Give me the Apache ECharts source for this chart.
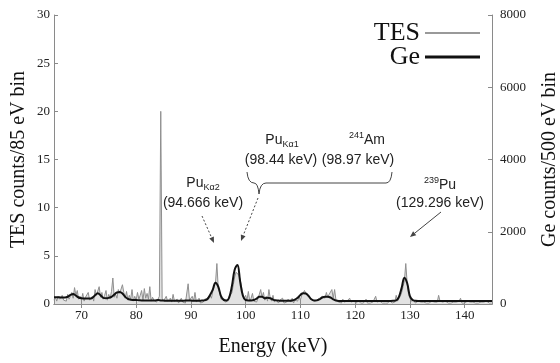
<!doctype html>
<html>
<head>
<meta charset="utf-8">
<title>TES / Ge spectrum</title>
<script src="https://cdn.jsdelivr.net/npm/echarts@6/dist/echarts.min.js"></script>
<style type="text/css">
	html,body{margin:0;padding:0;background:#fff;}
	#chart{width:560px;height:363px;}
</style>
</head>
<body>
<div id="chart"></div>
<script type="text/javascript">
// TES: counts per bin, one value every 0.25 keV starting at 65 keV
var tesStart = 65, tesStep = 0.25;
var tesCounts = [
	0.4,0.7,0.3,0.8, 0.5,0.3,0.9,0.4, 0.6,0.3,1.0,0.5, 0.8,1.2,0.6,1.7, 0.9,1.4,0.5,0.8,   // 65-69
	0.4,1.1,0.3,0.7, 0.5,1.2,0.4,0.6, 0.8,0.3,1.5,0.9, 1.0,1.8,0.7,1.2, 0.5,0.9,1.4,0.4,   // 70-74
	1.0,0.6,1.3,2.7, 0.7,1.0,0.6,1.5, 1.1,0.9,2.0,1.2, 0.6,1.3,0.4,0.9, 0.5,1.5,0.3,0.8,   // 75-79
	0.4,1.2,0.5,0.9, 1.4,0.4,1.6,0.6, 1.1,0.5,1.8,0.3, 0.7,0.4,0.6,0.2, 0.5,0.8,20,0.6,    // 80-84
	0.3,0.2,0.8,0.3, 0.1,0.6,0.2,1.0, 0.3,0.2,0.5,0.1, 0.3,0.6,0.2,0.4, 0.1,0.3,2.1,0.4,   // 85-89
	0.2,0.8,0.3,1.2, 0.2,0.4,0.6,0.1, 0.3,0.2,0.5,0.3, 0.6,0.4,0.9,0.6, 1.3,1.8,2.2,4.2,   // 90-94
	1.6,1.2,0.5,0.3, 0.6,0.2,0.4,0.3, 0.8,0.6,1.2,2.0, 2.8,3.3,3.5,3.0, 2.6,1.8,1.0,0.6,   // 95-99
	0.9,0.4,1.3,0.3, 0.6,1.1,0.3,0.5, 0.2,0.6,1.0,1.5, 0.7,1.2,0.4,0.8, 0.3,1.5,0.6,0.3,   // 100-104
	0.9,0.2,0.5,0.3, 0.1,0.4,0.2,0.6, 0.1,0.3,0.2,0.5, 0.3,0.2,0.6,0.1, 0.4,0.5,0.3,0.8,   // 105-109
	0.4,0.9,1.0,1.4, 1.1,1.2,0.8,1.0, 0.5,0.6,0.3,0.2, 0.4,0.3,0.6,0.4, 0.8,0.9,0.6,1.2,   // 110-114
	0.7,1.0,0.8,1.5, 0.6,1.5,0.4,0.6, 0.2,0.3,0.1,0.5, 0.2,0.1,0.3,0.2, 0.6,0.2,0.1,0.3,   // 115-119
	0.2,0.1,0.4,0.2, 0.1,0.3,0.1,0.2, 0.5,0.1,0.2,0.1, 0.3,0.2,0.1,0.8, 0.2,0.1,0.3,0.2,   // 120-124
	0.1,0.2,0.1,0.3, 0.1,0.4,0.2,0.1, 0.3,0.2,0.9,0.3, 0.5,0.8,1.2,1.8, 2.4,4.2,2.2,1.0,   // 125-129
	0.6,0.3,0.2,0.4, 0.1,0.2,0.3,0.1, 0.2,0.1,0.2,0.3, 0.1,0.2,0.1,0.2, 0.3,0.1,0.2,0.1,   // 130-134
	0.2,0.9,0.3,0.1, 0.2,0.1,0.3,0.2, 0.1,0.2,0.1,0.3, 0.2,0.1,0.2,0.1, 0.3,0.6,0.1,0.2,   // 135-139
	0.1,0.2,0.3,0.1, 0.2,0.1,0.2,0.4, 0.1,0.2,0.1,0.3, 0.2,0.1,0.2,0.1, 0.3,0.2,0.1,0.2,   // 140-144
	0.1                                                                                    // 145
];

// Ge: counts per 500 eV bin, starting at 65 keV
var geStart = 65, geStep = 0.5;
var geCounts = [
	190,190,185,180,180,200,250,280,230,180,   // 65-69.5
	160,150,150,150,170,240,300,240,170,160,   // 70-74.5
	170,200,260,320,330,290,200,140,120,110,   // 75-79.5
	110,105,100,100,100,100,95,100,110,100,    // 80-84.5
	95,90,90,90,90,90,90,90,95,95,             // 85-89.5
	95,90,90,90,95,100,130,250,400,590,        // 90-94.5
	480,220,110,100,180,500,950,1080,620,230,  // 95-99.5
	110,100,100,110,150,200,200,160,170,160,   // 100-104.5
	120,100,95,90,90,90,90,95,120,170,         // 105-109.5
	250,300,290,220,130,95,100,130,180,200,    // 110-114.5
	200,180,130,95,85,85,85,85,85,85,          // 115-119.5
	85,85,85,85,85,85,85,85,85,85,             // 120-124.5
	85,85,85,85,90,100,200,450,730,580,        // 125-129.5
	220,110,90,85,85,85,85,85,85,85,           // 130-134.5
	85,85,85,85,85,85,85,85,80,80,             // 135-139.5
	80,80,80,80,80,80,80,80,80,80,             // 140-144.5
	80                                         // 145
];

var xTicks = [70, 80, 90, 100, 110, 120, 130, 140];

var tesData = tesCounts.map(function(v, i){ return [tesStart + i * tesStep, v]; });
var geData = geCounts.map(function(v, i){ return [geStart + i * geStep, v]; });

var serif = "'Liberation Serif', 'DejaVu Serif', serif";
var sans = "'Liberation Sans', 'Noto Sans', sans-serif";
var frameColor = '#8a8a8a';
var inkStyle = {stroke: '#444', lineWidth: 1, fill: null};

// arrow = line + little filled head
function arrow(x1, y1, x2, y2, dashed){
	var dx = x2 - x1, dy = y2 - y1, len = Math.sqrt(dx*dx + dy*dy);
	var ux = dx / len, uy = dy / len, hl = 6, hw = 2.5;
	var bx = x2 - ux * hl, by = y2 - uy * hl;
	return [
		{type: 'line', shape: {x1: x1, y1: y1, x2: bx, y2: by},
		 style: {stroke: '#444', lineWidth: 1, lineDash: dashed ? [2, 2] : null}},
		{type: 'polygon', shape: {points: [[x2, y2], [bx - uy*hw, by + ux*hw], [bx + uy*hw, by - ux*hw]]},
		 style: {fill: '#444'}}
	];
}

function curve(x1, y1, cx, cy, x2, y2){
	return {type: 'bezierCurve', shape: {x1: x1, y1: y1, cpx1: cx, cpy1: cy, x2: x2, y2: y2}, style: inkStyle};
}

function label(x, y, text){
	return {
		type: 'text',
		style: {
			x: x, y: y, text: text, align: 'center', verticalAlign: 'middle',
			fill: '#222',
			rich: {
				m: {fontFamily: sans, fontSize: 14, lineHeight: 18, verticalAlign: 'middle'},
				s: {fontFamily: sans, fontSize: 9, lineHeight: 18, verticalAlign: 'bottom'},
				p: {fontFamily: sans, fontSize: 9, lineHeight: 18, verticalAlign: 'top'}
			}
		}
	};
}

var notes = [
	label(203, 183, '{m|Pu}{s|Kα2}'),
	label(203, 203, '{m|(94.666 keV)}'),
	label(282, 140, '{m|Pu}{s|Kα1}'),
	label(281, 160, '{m|(98.44 keV)}'),
	label(367, 140, '{p|241}{m|Am}'),
	label(358, 160, '{m|(98.97 keV)}'),
	label(440, 185, '{p|239}{m|Pu}'),
	label(440, 203, '{m|(129.296 keV)}'),
	// curly brace under the 98 keV labels
	curve(247, 172, 248, 183, 254, 183),
	curve(254, 183, 258, 183, 259, 194),
	curve(259, 194, 260, 183, 266, 183),
	{type: 'line', shape: {x1: 266, y1: 183, x2: 386, y2: 183}, style: inkStyle},
	curve(386, 183, 391, 183, 392, 172)
].concat(arrow(202, 216, 214, 243, true))
 .concat(arrow(258, 198, 241, 241, true))
 .concat(arrow(441, 212, 410, 237, false));

var chart = echarts.init(document.getElementById('chart'));
var option = {
	animation: false,
	backgroundColor: '#fff',
	grid: {left: 54, right: 68, top: 15, bottom: 59, containLabel: false, outerBoundsMode: 'none'},
	legend: [
		{data: [{name: 'TES', icon: 'rect'}], right: 80, top: 20, padding: 0, align: 'right', itemWidth: 55, itemHeight: 2,
		 textStyle: {fontFamily: serif, fontSize: 26, color: '#111'}, selectedMode: false},
		{data: [{name: 'Ge', icon: 'rect'}], right: 80, top: 44, padding: 0, align: 'right', itemWidth: 55, itemHeight: 3,
		 textStyle: {fontFamily: serif, fontSize: 26, color: '#111'}, selectedMode: false}
	],
	xAxis: [
		{type: 'value', min: 65, max: 145, position: 'bottom',
		 name: 'Energy (keV)', nameLocation: 'middle', nameGap: 33, nameMoveOverlap: false,
		 nameTextStyle: {fontFamily: serif, fontSize: 20, color: '#111'},
		 axisLine: {lineStyle: {color: frameColor}},
		 axisTick: {inside: true, length: 4, customValues: xTicks, lineStyle: {color: frameColor}},
		 axisLabel: {customValues: xTicks, fontFamily: serif, fontSize: 13, color: '#222', margin: 5},
		 splitLine: {show: false}},
		{type: 'value', min: 65, max: 145, position: 'top',
		 axisLine: {lineStyle: {color: frameColor}},
		 axisTick: {inside: true, length: 4, customValues: xTicks, lineStyle: {color: frameColor}},
		 axisLabel: {show: false}, splitLine: {show: false}}
	],
	yAxis: [
		{type: 'value', min: 0, max: 30, interval: 5, position: 'left',
		 name: 'TES counts/85 eV bin', nameLocation: 'middle', nameGap: 25, nameRotate: 90, nameMoveOverlap: false,
		 nameTextStyle: {fontFamily: serif, fontSize: 20, color: '#111'},
		 axisLine: {show: true, lineStyle: {color: frameColor}},
		 axisTick: {show: true, inside: true, length: 4, lineStyle: {color: frameColor}},
		 axisLabel: {fontFamily: serif, fontSize: 13, color: '#222', margin: 4},
		 splitLine: {show: false}},
		{type: 'value', min: 0, max: 8000, interval: 2000, position: 'right',
		 name: 'Ge counts/500 eV bin', nameLocation: 'middle', nameGap: 48, nameRotate: 90, nameMoveOverlap: false,
		 nameTextStyle: {fontFamily: serif, fontSize: 20, color: '#111'},
		 axisLine: {show: true, lineStyle: {color: frameColor}},
		 axisTick: {show: true, inside: true, length: 4, lineStyle: {color: frameColor}},
		 axisLabel: {fontFamily: serif, fontSize: 13, color: '#222', margin: 8,
		             formatter: function(v){ return String(v); }},
		 splitLine: {show: false}}
	],
	series: [
		{name: 'TES', type: 'line', xAxisIndex: 0, yAxisIndex: 0, data: tesData,
		 symbol: 'none', color: '#999',
		 lineStyle: {width: 1, color: '#8f8f8f'},
		 areaStyle: {color: 'rgba(150,150,150,0.4)'}, z: 2},
		{name: 'Ge', type: 'line', xAxisIndex: 0, yAxisIndex: 1, data: geData,
		 symbol: 'none', smooth: 0.4, color: '#111',
		 lineStyle: {width: 2, color: '#111'}, z: 3}
	],
	graphic: notes
};
chart.setOption(option);
</script>
</body>
</html>
